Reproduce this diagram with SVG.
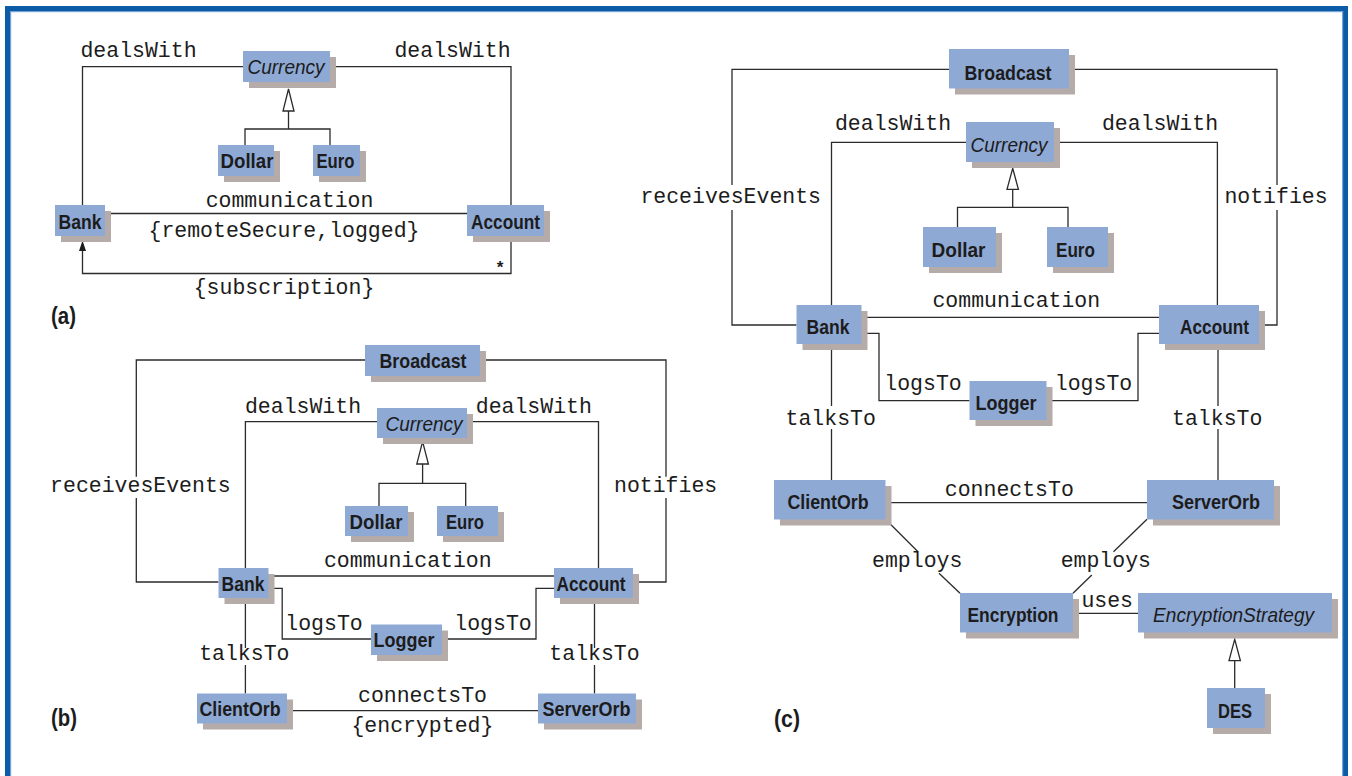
<svg xmlns="http://www.w3.org/2000/svg" width="1352" height="776" viewBox="0 0 1352 776">
<style>
.frame{fill:none;stroke:#0b5ba6;stroke-width:5}
.frame2{fill:none;stroke:#79a3d6;stroke-width:1.2}
.sh{fill:#b5aba8}
.bx{fill:#8fa9d5}
.lb{font-family:"Liberation Sans Narrow","Liberation Sans",Arial,sans-serif;font-weight:bold;font-size:21px;fill:#1c1c1c;text-anchor:middle}
.it{font-family:"Liberation Sans Narrow","Liberation Sans",Arial,sans-serif;font-style:italic;font-size:21px;fill:#1c1c1c;text-anchor:middle}
.mo{font-family:"Liberation Mono","Courier New",monospace;font-size:21.5px;fill:#1c1c1c;text-anchor:middle}
.pl{font-family:"Liberation Sans Narrow","Liberation Sans",Arial,sans-serif;font-weight:bold;font-size:23px;fill:#1c1c1c}
.cn path,.cn polyline,.cn line{fill:none;stroke:#2b2b2b;stroke-width:1.3}
.cn .tri{fill:#fff;stroke:#2b2b2b;stroke-width:1.3}
.cn .arr{fill:#1c1c1c;stroke:none}
</style>
<rect x="0" y="0" width="1352" height="776" fill="#fff"/>
<rect class="frame" x="7.5" y="8.5" width="1338" height="800"/>
<rect class="frame2" x="10.6" y="11.6" width="1332" height="800"/>

<g id="connectors" class="cn">
<!-- panel a -->
<polyline points="243,66.7 82.5,66.7 82.5,205"/>
<polyline points="330,66.7 511,66.7 511,205"/>
<polygon class="tri" points="288.5,89 283,111 294,111"/>
<line x1="288.5" y1="111" x2="288.5" y2="129"/>
<polyline points="245,145 245,129 330,129 330,145"/>
<line x1="105" y1="213.5" x2="467" y2="213.5"/>
<polyline points="511,236 511,273.5 82.5,273.5 82.5,250"/>
<polygon class="arr" points="82.5,240.5 79,251 86,251"/>
<!-- panel b -->
<polyline points="365,360 136.3,360 136.3,476.7"/>
<polyline points="136.3,498 136.3,582 218.5,582"/>
<polyline points="480,360 666,360 666,476.7"/>
<polyline points="666,498 666,582 633,582"/>
<polyline points="377,421.7 245.4,421.7 245.4,568"/>
<polyline points="467,421.7 598.5,421.7 598.5,568"/>
<polygon class="tri" points="422.6,441.7 416.8,464 428.4,464"/>
<line x1="422.6" y1="464" x2="422.6" y2="483.3"/>
<polyline points="379,506 379,483.3 465.7,483.3 465.7,506"/>
<line x1="268.7" y1="576" x2="554" y2="576"/>
<polyline points="268.7,588.3 282.2,588.3 282.2,639 371,639"/>
<polyline points="442,639 536,639 536,588.3 554,588.3"/>
<line x1="245.4" y1="598" x2="245.4" y2="648"/>
<line x1="245.4" y1="665" x2="245.4" y2="693.5"/>
<line x1="594.5" y1="598" x2="594.5" y2="648"/>
<line x1="594.5" y1="665" x2="594.5" y2="693.5"/>
<line x1="287" y1="710.7" x2="538" y2="710.7"/>
<!-- panel c -->
<polyline points="950,69.3 732,69.3 732,185"/>
<polyline points="732,210 732,325 796.5,325"/>
<polyline points="1069,69.3 1277,69.3 1277,185"/>
<polyline points="1277,210 1277,325 1261,325"/>
<polyline points="966,142.3 831.5,142.3 831.5,305"/>
<polyline points="1054,142.3 1217.4,142.3 1217.4,305"/>
<polygon class="tri" points="1012.7,168.3 1007,189.3 1018.4,189.3"/>
<line x1="1012.7" y1="189.3" x2="1012.7" y2="207.3"/>
<polyline points="957.5,227 957.5,207.3 1068,207.3 1068,227"/>
<line x1="861.4" y1="317.3" x2="1160" y2="317.3"/>
<polyline points="861.4,333.3 879,333.3 879,400.7 969.5,400.7"/>
<polyline points="1046,400.7 1138,400.7 1138,333.3 1160,333.3"/>
<line x1="831.5" y1="344" x2="831.5" y2="406"/>
<line x1="831.5" y1="429" x2="831.5" y2="480"/>
<line x1="1218" y1="344" x2="1218" y2="406"/>
<line x1="1218" y1="429" x2="1218" y2="480"/>
<line x1="885.5" y1="502.7" x2="1147" y2="502.7"/>
<line x1="885.5" y1="519.3" x2="918" y2="551.7"/>
<line x1="939" y1="573.3" x2="960" y2="593.3"/>
<line x1="1147" y1="519.3" x2="1113.5" y2="551.7"/>
<line x1="1091.8" y1="575" x2="1073" y2="593.3"/>
<line x1="1073" y1="613.3" x2="1138" y2="613.3"/>
<polygon class="tri" points="1234.7,639.3 1229,660.7 1240.4,660.7"/>
<line x1="1234.7" y1="660.7" x2="1234.7" y2="688"/>
</g>

<g id="labels">
<text class="mo" x="138.5" y="57">dealsWith</text>
<text class="mo" x="452.5" y="57">dealsWith</text>
<text class="mo" x="289.5" y="207">communication</text>
<text class="mo" x="284" y="237">{remoteSecure,logged}</text>
<text class="mo" x="284" y="294">{subscription}</text>
<text class="mo" x="500" y="273" style="font-size:17px;font-weight:bold">*</text>
<text class="pl" x="51" y="324" textLength="25" lengthAdjust="spacingAndGlyphs">(a)</text>

<text class="mo" x="140.4" y="492">receivesEvents</text>
<text class="mo" x="665.6" y="492">notifies</text>
<text class="mo" x="303" y="413">dealsWith</text>
<text class="mo" x="533.8" y="413">dealsWith</text>
<text class="mo" x="407.8" y="567">communication</text>
<text class="mo" x="324" y="630">logsTo</text>
<text class="mo" x="493" y="630">logsTo</text>
<text class="mo" x="244.3" y="660">talksTo</text>
<text class="mo" x="594.5" y="660">talksTo</text>
<text class="mo" x="422.5" y="701.5">connectsTo</text>
<text class="mo" x="422.4" y="732">{encrypted}</text>
<text class="pl" x="51" y="726" textLength="26" lengthAdjust="spacingAndGlyphs">(b)</text>

<text class="mo" x="730.7" y="203">receivesEvents</text>
<text class="mo" x="1276" y="203">notifies</text>
<text class="mo" x="893" y="130">dealsWith</text>
<text class="mo" x="1160" y="130">dealsWith</text>
<text class="mo" x="1016.3" y="307">communication</text>
<text class="mo" x="923" y="390">logsTo</text>
<text class="mo" x="1093.5" y="390">logsTo</text>
<text class="mo" x="830.7" y="425">talksTo</text>
<text class="mo" x="1217.2" y="425">talksTo</text>
<text class="mo" x="1009.3" y="495.5">connectsTo</text>
<text class="mo" x="917.2" y="566.5">employs</text>
<text class="mo" x="1105.8" y="566.5">employs</text>
<text class="mo" x="1107.2" y="607">uses</text>
<text class="pl" x="774" y="727" textLength="26" lengthAdjust="spacingAndGlyphs">(c)</text>
</g>

<!-- panel a nodes -->
<g id="a-currency"><rect class="sh" x="249" y="57" width="87" height="31"/><rect class="bx" x="243" y="51" width="87" height="31"/><text class="it" x="286" y="74" textLength="77" lengthAdjust="spacingAndGlyphs">Currency</text></g>
<g id="a-dollar"><rect class="sh" x="224" y="151" width="56" height="31"/><rect class="bx" x="218" y="145" width="56" height="31"/><text class="lb" x="247" y="168" textLength="53" lengthAdjust="spacingAndGlyphs">Dollar</text></g>
<g id="a-euro"><rect class="sh" x="319" y="151" width="47" height="31"/><rect class="bx" x="313" y="145" width="47" height="31"/><text class="lb" x="335.5" y="168" textLength="38" lengthAdjust="spacingAndGlyphs">Euro</text></g>
<g id="a-bank"><rect class="sh" x="61" y="211" width="50" height="31"/><rect class="bx" x="55" y="205" width="50" height="31"/><text class="lb" x="80" y="228.5" textLength="43" lengthAdjust="spacingAndGlyphs">Bank</text></g>
<g id="a-account"><rect class="sh" x="473" y="211" width="77" height="31"/><rect class="bx" x="467" y="205" width="77" height="31"/><text class="lb" x="505.5" y="228.5" textLength="69" lengthAdjust="spacingAndGlyphs">Account</text></g>

<!-- panel b nodes -->
<g id="b-broadcast"><rect class="sh" x="371" y="351" width="115" height="31"/><rect class="bx" x="365" y="345" width="115" height="31"/><text class="lb" x="423" y="368" textLength="87" lengthAdjust="spacingAndGlyphs">Broadcast</text></g>
<g id="b-currency"><rect class="sh" x="383" y="414" width="90" height="30"/><rect class="bx" x="377" y="408" width="90" height="30"/><text class="it" x="424" y="430.5" textLength="77" lengthAdjust="spacingAndGlyphs">Currency</text></g>
<g id="b-dollar"><rect class="sh" x="351" y="512" width="63" height="30"/><rect class="bx" x="345" y="506" width="63" height="30"/><text class="lb" x="376" y="528.5" textLength="53" lengthAdjust="spacingAndGlyphs">Dollar</text></g>
<g id="b-euro"><rect class="sh" x="443" y="512" width="61" height="30"/><rect class="bx" x="437" y="506" width="61" height="30"/><text class="lb" x="465" y="528.5" textLength="38" lengthAdjust="spacingAndGlyphs">Euro</text></g>
<g id="b-bank"><rect class="sh" x="224.5" y="574" width="50" height="30"/><rect class="bx" x="218.5" y="568" width="50" height="30"/><text class="lb" x="243" y="590.5" textLength="43" lengthAdjust="spacingAndGlyphs">Bank</text></g>
<g id="b-account"><rect class="sh" x="560" y="574" width="79" height="30"/><rect class="bx" x="554" y="568" width="79" height="30"/><text class="lb" x="591" y="590.5" textLength="69" lengthAdjust="spacingAndGlyphs">Account</text></g>
<g id="b-logger"><rect class="sh" x="377" y="630.5" width="71" height="30.5"/><rect class="bx" x="371" y="624.5" width="71" height="30.5"/><text class="lb" x="404" y="647" textLength="61" lengthAdjust="spacingAndGlyphs">Logger</text></g>
<g id="b-clientorb"><rect class="sh" x="203" y="699.5" width="90" height="30"/><rect class="bx" x="197" y="693.5" width="90" height="30"/><text class="lb" x="240" y="716" textLength="81" lengthAdjust="spacingAndGlyphs">ClientOrb</text></g>
<g id="b-serverorb"><rect class="sh" x="544" y="699.5" width="98" height="30"/><rect class="bx" x="538" y="693.5" width="98" height="30"/><text class="lb" x="586.5" y="716" textLength="88" lengthAdjust="spacingAndGlyphs">ServerOrb</text></g>

<!-- panel c nodes -->
<g id="c-broadcast"><rect class="sh" x="955" y="55" width="120" height="39.5"/><rect class="bx" x="949" y="49" width="120" height="39.5"/><text class="lb" x="1008" y="79.5" textLength="87" lengthAdjust="spacingAndGlyphs">Broadcast</text></g>
<g id="c-currency"><rect class="sh" x="972" y="128" width="88" height="40"/><rect class="bx" x="966" y="122" width="88" height="40"/><text class="it" x="1009" y="151.5" textLength="77" lengthAdjust="spacingAndGlyphs">Currency</text></g>
<g id="c-dollar"><rect class="sh" x="929" y="233" width="73" height="40"/><rect class="bx" x="923" y="227" width="73" height="40"/><text class="lb" x="958.5" y="256.5" textLength="54" lengthAdjust="spacingAndGlyphs">Dollar</text></g>
<g id="c-euro"><rect class="sh" x="1053" y="233" width="61" height="40"/><rect class="bx" x="1047" y="227" width="61" height="40"/><text class="lb" x="1075.5" y="256.5" textLength="39" lengthAdjust="spacingAndGlyphs">Euro</text></g>
<g id="c-bank"><rect class="sh" x="802.5" y="311" width="65" height="39"/><rect class="bx" x="796.5" y="305" width="65" height="39"/><text class="lb" x="828" y="334" textLength="43" lengthAdjust="spacingAndGlyphs">Bank</text></g>
<g id="c-account"><rect class="sh" x="1165" y="311" width="100" height="39"/><rect class="bx" x="1159" y="305" width="100" height="39"/><text class="lb" x="1214.5" y="334" textLength="69" lengthAdjust="spacingAndGlyphs">Account</text></g>
<g id="c-logger"><rect class="sh" x="975.5" y="387" width="77" height="39"/><rect class="bx" x="969.5" y="381" width="77" height="39"/><text class="lb" x="1006" y="410" textLength="61" lengthAdjust="spacingAndGlyphs">Logger</text></g>
<g id="c-clientorb"><rect class="sh" x="780" y="486" width="111.5" height="39.5"/><rect class="bx" x="774" y="480" width="111.5" height="39.5"/><text class="lb" x="828" y="509" textLength="81" lengthAdjust="spacingAndGlyphs">ClientOrb</text></g>
<g id="c-serverorb"><rect class="sh" x="1153" y="486" width="127" height="39.5"/><rect class="bx" x="1147" y="480" width="127" height="39.5"/><text class="lb" x="1216" y="509" textLength="88" lengthAdjust="spacingAndGlyphs">ServerOrb</text></g>
<g id="c-encryption"><rect class="sh" x="966" y="599" width="113" height="39.5"/><rect class="bx" x="960" y="593" width="113" height="39.5"/><text class="lb" x="1013" y="622" textLength="91" lengthAdjust="spacingAndGlyphs">Encryption</text></g>
<g id="c-encryptionstrategy"><rect class="sh" x="1144" y="599" width="194" height="39.5"/><rect class="bx" x="1138" y="593" width="194" height="39.5"/><text class="it" x="1233.6" y="622" textLength="161" lengthAdjust="spacingAndGlyphs">EncryptionStrategy</text></g>
<g id="c-des"><rect class="sh" x="1213" y="694" width="58" height="40"/><rect class="bx" x="1207" y="688" width="58" height="40"/><text class="lb" x="1235" y="717.5" textLength="34" lengthAdjust="spacingAndGlyphs">DES</text></g>
</svg>
